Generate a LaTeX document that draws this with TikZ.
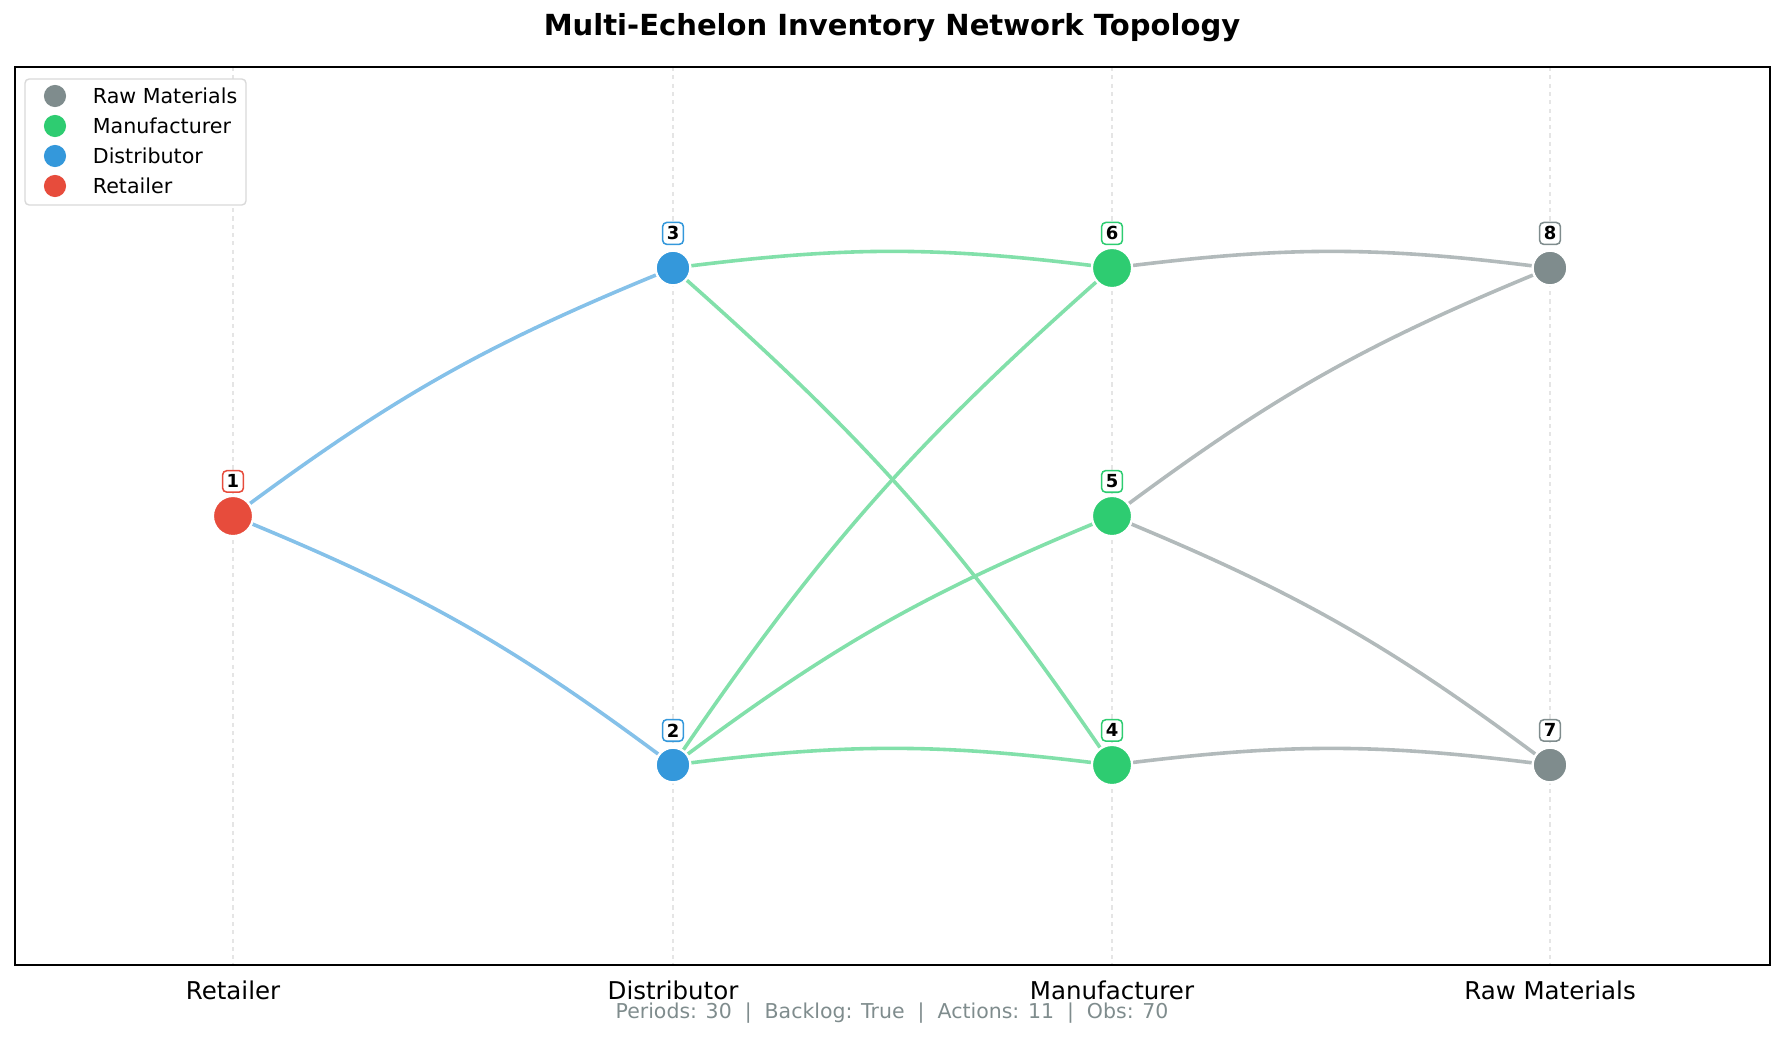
\documentclass[tikz,border=0pt]{standalone}
\usepackage{fontspec}
\setmainfont{DejaVu Sans}
\usetikzlibrary{positioning}
\definecolor{rawc}{HTML}{7F8C8D}
\definecolor{manc}{HTML}{2ECC71}
\definecolor{disc}{HTML}{3498DB}
\definecolor{retc}{HTML}{E74C3C}
\tikzset{
  stock/.style={circle, fill=#1, draw=white, line width=1.6pt, minimum size=29pt, inner sep=0pt},
  small/.style={stock=#1, minimum size=25pt},
  tag/.style={draw=#1, fill=white, rounded corners=3pt, line width=1.1pt, inner sep=3pt, font=\fontsize{13}{13}\selectfont\bfseries},
  link/.style={draw=#1!60, line width=2.6pt, bend left=7},
  lgd/.style={circle, fill=#1, minimum size=16pt, inner sep=0pt}
}
\begin{document}
\begin{tikzpicture}[x=0.0254cm, y=-0.0254cm]
\useasboundingbox (0,0) rectangle (1785,1040);
% grid lines
\foreach \cx in {233,673,1112,1550}
  \draw[gray!20, dashed, line width=0.8pt] (\cx,67) -- (\cx,965);
% nodes
\node[stock=retc] (n1) at (233,516) {};
\node[small=disc] (n2) at (673,765) {};
\node[small=disc] (n3) at (673,268) {};
\node[stock=manc] (n4) at (1112,765) {};
\node[stock=manc] (n5) at (1112,516) {};
\node[stock=manc] (n6) at (1112,268) {};
\node[small=rawc] (n7) at (1550,765) {};
\node[small=rawc] (n8) at (1550,268) {};
% links
\draw[link=disc] (n1) to (n3);
\draw[link=disc] (n1) to (n2);
\draw[link=manc] (n3) to (n6);
\draw[link=manc] (n3) to (n4);
\draw[link=manc] (n2) to (n6);
\draw[link=manc] (n2) to (n5);
\draw[link=manc] (n2) to (n4);
\draw[link=rawc] (n6) to (n8);
\draw[link=rawc] (n5) to (n8);
\draw[link=rawc] (n5) to (n7);
\draw[link=rawc] (n4) to (n7);
% tags
\foreach \n/\c/\t in {n1/retc/1,n2/disc/2,n3/disc/3,n4/manc/4,n5/manc/5,n6/manc/6,n7/rawc/7,n8/rawc/8}
  \node[tag=\c, yshift=25pt] (t\t) at (\n) {\t};
% redraw nodes on top
\node[stock=retc] at (n1) {};
\node[small=disc] at (n2) {};
\node[small=disc] at (n3) {};
\node[stock=manc] at (n4) {};
\node[stock=manc] at (n5) {};
\node[stock=manc] at (n6) {};
\node[small=rawc] at (n7) {};
\node[small=rawc] at (n8) {};
% frame
\draw[line width=1.3pt] (15,67) rectangle (1770,965);
% legend
\draw[gray!30, fill=white, rounded corners=3pt, line width=1pt] (25,79) rectangle (246,205);
\foreach \c/\t [count=\i] in {rawc/Raw Materials,manc/Manufacturer,disc/Distributor,retc/Retailer} {
  \node[lgd=\c] (l\i) at (55,66+30*\i) {};
  \node[anchor=west, font=\fontsize{14.9}{14.9}\selectfont] (lt\i) at (88,66+30*\i) {\t};
}
% axis labels
\foreach \cx/\t in {233/Retailer,673/Distributor,1112/Manufacturer,1550/Raw Materials}
  \node[font=\fontsize{17.7}{17.7}\selectfont] at (\cx,990) {\t};
\node[font=\fontsize{21}{21}\selectfont\bfseries] (title) at (892,28) {Multi-Echelon Inventory Network Topology};
\node[font=\fontsize{14.8}{14.8}\selectfont, text=rawc] (foot) at (892,1013) {Periods: 30~~|~~Backlog: True~~|~~Actions: 11~~|~~Obs: 70};
\end{tikzpicture}
\end{document}
